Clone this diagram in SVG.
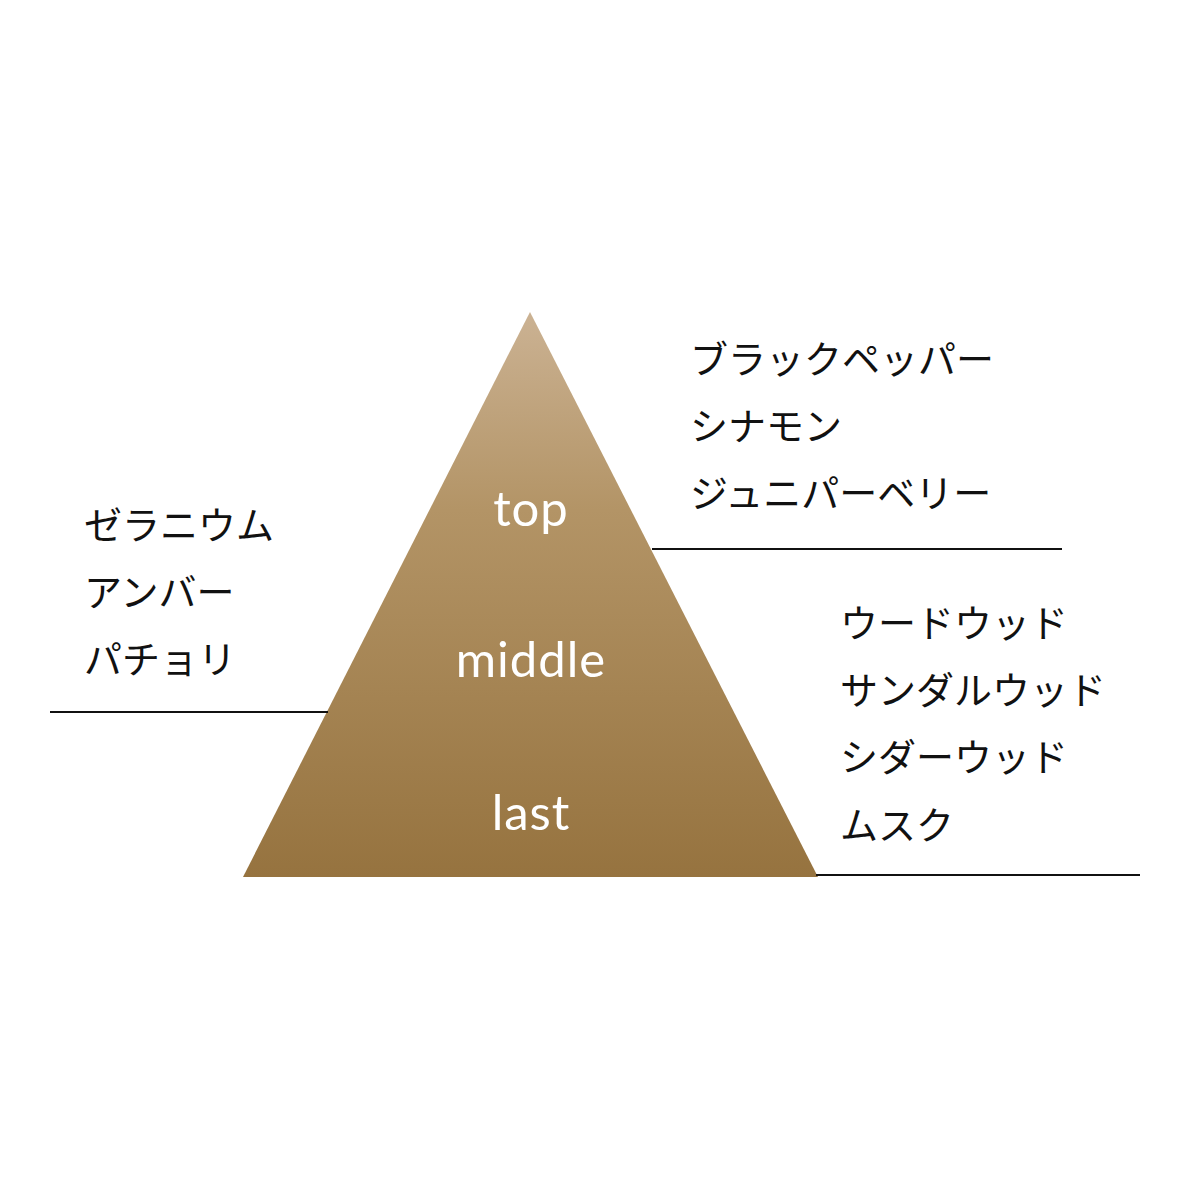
<svg xmlns="http://www.w3.org/2000/svg" width="1200" height="1200" viewBox="0 0 1200 1200">
<defs>
<linearGradient id="g" x1="0" y1="312" x2="0" y2="877" gradientUnits="userSpaceOnUse">
<stop offset="0" stop-color="#cbb293"/>
<stop offset="0.35" stop-color="#b39466"/>
<stop offset="1" stop-color="#96733f"/>
</linearGradient>
<style>
.jp{font-family:"Noto Sans CJK JP","Noto Sans",sans-serif;font-size:38px;fill:#111;}
.lv{font-family:"Lato","Noto Sans",sans-serif;font-size:49px;font-weight:400;letter-spacing:1px;fill:#fff;text-anchor:middle;}
.ln{stroke:#111;stroke-width:2.2;fill:none;}
</style>
</defs>
<rect width="1200" height="1200" fill="#fff"/>
<g id="pyramid">
<polygon points="530,312 818,877 243,877" fill="url(#g)"/>
<text class="lv" x="531" y="526">top</text>
<text class="lv" x="531" y="677">middle</text>
<text class="lv" x="531" y="830">last</text>
</g>
<g id="connectors">
<line class="ln" x1="652" y1="549" x2="1062" y2="549"/>
<line class="ln" x1="50" y1="712" x2="328" y2="712"/>
<line class="ln" x1="816" y1="875" x2="1140" y2="875"/>
</g>
<g id="top-notes">
<text class="jp" x="690" y="373">ブラックペッパー</text>
<text class="jp" x="690" y="440">シナモン</text>
<text class="jp" x="690" y="507">ジュニパーベリー</text>
</g>
<g id="middle-notes">
<text class="jp" x="84" y="539">ゼラニウム</text>
<text class="jp" x="84" y="606">アンバー</text>
<text class="jp" x="84" y="673">パチョリ</text>
</g>
<g id="last-notes">
<text class="jp" x="840" y="637">ウードウッド</text>
<text class="jp" x="840" y="704">サンダルウッド</text>
<text class="jp" x="840" y="771">シダーウッド</text>
<text class="jp" x="840" y="839">ムスク</text>
</g>
</svg>
